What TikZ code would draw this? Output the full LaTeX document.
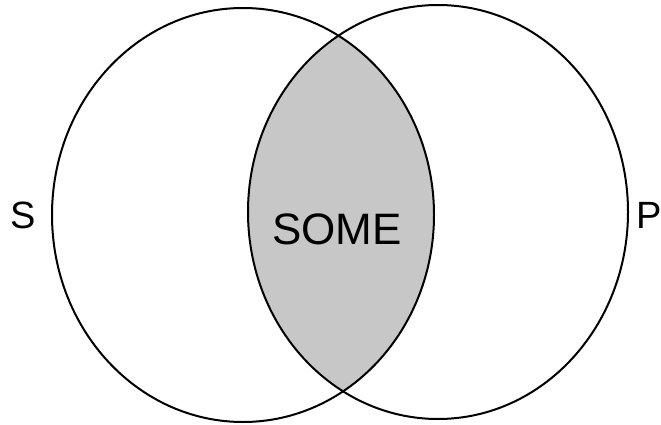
\documentclass[tikz,border=0pt]{standalone}
\usepackage{fontspec}
\setmainfont{Liberation Sans}
\usepackage{tikz}
\usetikzlibrary{positioning}

\begin{document}
\begin{tikzpicture}[x=1pt, y=1pt,
    setline/.style={black, line width=2pt},
    setlabel/.style={font=\fontsize{38}{38}\selectfont, inner sep=0pt}]
        \useasboundingbox (0, 0) rectangle (661, -425);

        % Intersezione
        \begin{scope}
            \clip (243, -215) ellipse [x radius=191, y radius=207];
            \fill[black!22] (438, -212) ellipse [x radius=190, y radius=207];
        \end{scope}

        % Insiemi
        \draw[setline] (243, -215) ellipse [x radius=191, y radius=207];
        \draw[setline] (438, -212) ellipse [x radius=190, y radius=207];

        % Etichette
        \node[setlabel] (labS) at (23, -215) {S};
        \node[setlabel, anchor=west] (labP) at (636, -215) {P};
        \node[setlabel, font=\fontsize{44}{44}\selectfont] (some) at (337, -229) {SOME};
    \end{tikzpicture}
\end{document}
